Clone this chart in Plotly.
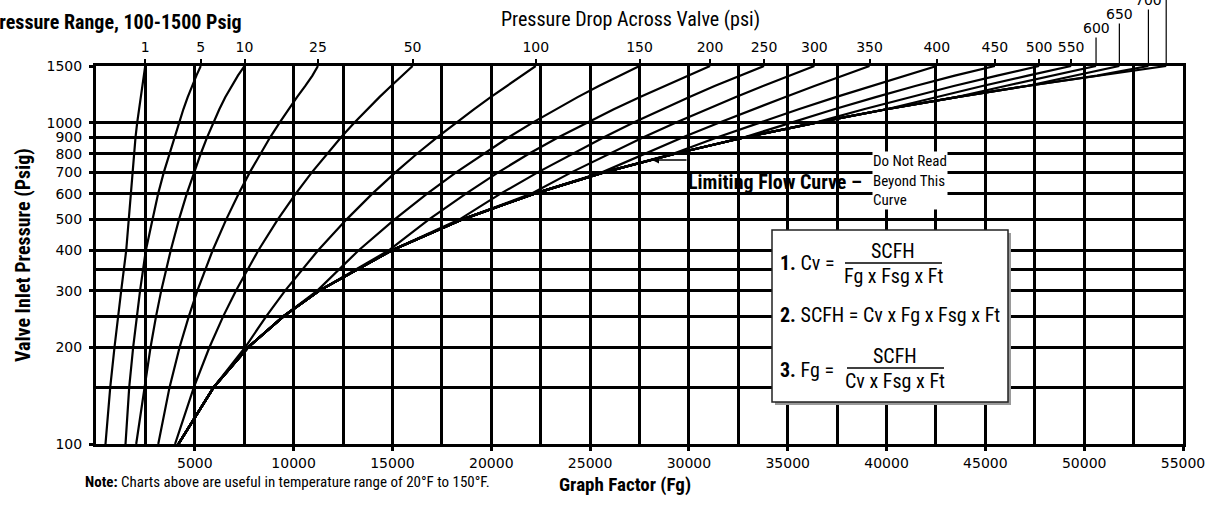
import math

import plotly.graph_objects as go

# Valve inlet pressure (psig) at which every curve is read
INLET_PSIG = [100, 150, 200, 250, 300, 400, 500, 600, 700, 800, 900, 1000, 1100, 1200, 1300, 1400, 1500]

# Limiting (critical) flow curve - Graph Factor values
LIMITING_FG = [4170, 5950, 7700, 9500, 11300, 14950, 18550, 22150, 25700, 29300,
               32850, 36450, 40000, 43550, 47100, 50650, 54150]

# Pressure drop curves (None = curve lies on the limiting flow curve there)
FG_1 = [480, 720, 936, 1110, 1275, 1528, 1660, 1761, 1832, 1913, 1999, 2084, 2180, 2265, 2345, 2420, 2490]
FG_5 = [1493, 1680, 1880, 2060, 2230, 2520, 2850, 3140, 3430, 3720, 3970, 4190, 4420, 4640, 4860, 5080, 5300]
FG_10 = [2034, 2450, 2760, 3040, 3300, 3780, 4200, 4590, 4960, 5300, 5620, 5930, 6240, 6540, 6850, 7180, 7514]
FG_25 = [3150, 3720, 4230, 4700, 5130, 5900, 6590, 7210, 7780, 8310, 8810, 9290, 9740, 10170, 10590, 10950, 11230]
FG_50 = [4000, 4950, 5740, 6440, 7080, 8210, 9200, 10100, 10920, 11690, 12400, 13080, 13730, 14340, 14930, 15490, 16020]
FG_100 = [None, None, 7550, 8620, 9570, 11230, 12680, 13970, 15150, 16240, 17260, 18220, 19120, 19970, 20780, 21540, 22250]
FG_150 = [None, None, None, None, 11200, 13280, 15110, 16740, 18220, 19600, 20880, 22090, 23250, 24370, 25440, 26470, 27500]
FG_200 = [None, None, None, None, None, 14800, 16850, 18700, 20350, 21900, 23400, 24850, 26200, 27500, 28750, 29950, 31070]
FG_250 = [None, None, None, None, None, None, 18400, 20450, 22350, 24100, 25700, 27200, 28650, 30000, 31300, 32550, 33800]
FG_300 = [None, None, None, None, None, None, None, 22000, 24050, 25950, 27700, 29350, 30900, 32350, 33750, 35050, 36350]
FG_350 = [None, None, None, None, None, None, None, None, 25600, 27750, 29700, 31550, 33250, 34850, 36350, 37800, 39140]
FG_400 = [None, None, None, None, None, None, None, None, None, 29200, 31450, 33550, 35550, 37430, 39220, 40920, 42540]
FG_450 = [None, None, None, None, None, None, None, None, None, None, 32800, 35150, 37350, 39450, 41450, 43450, 45480]
FG_500 = [None, None, None, None, None, None, None, None, None, None, None, 36400, 38850, 41150, 43400, 45600, 47720]
FG_550 = [None, None, None, None, None, None, None, None, None, None, None, None, 40000, 42500, 44850, 47150, 49340]
FG_600 = [None, None, None, None, None, None, None, None, None, None, None, None, None, 43550, 46000, 48300, 50600]
FG_650 = [None, None, None, None, None, None, None, None, None, None, None, None, None, None, 47100, 49500, 51780]
FG_700 = [None, None, None, None, None, None, None, None, None, None, None, None, None, None, None, 50650, 53250]

DROP_LABELS = ["1", "5", "10", "25", "50", "100", "150", "200", "250", "300",
               "350", "400", "450", "500", "550", "600", "650", "700"]
DROP_CURVES = [FG_1, FG_5, FG_10, FG_25, FG_50, FG_100, FG_150, FG_200, FG_250, FG_300,
               FG_350, FG_400, FG_450, FG_500, FG_550, FG_600, FG_650, FG_700]
RAISED_LABELS = ["600", "650", "700"]  # labels lifted above the others with leader lines

X_TICKS = [5000, 10000, 15000, 20000, 25000, 30000, 35000, 40000, 45000, 50000, 55000]
Y_TICKS = [100, 200, 300, 400, 500, 600, 700, 800, 900, 1000, 1500]
Y_MINOR = [150, 250, 350]

W, H = 1207, 512
ML, MR, MT, MB = 96, 24, 66, 68
PW, PH = W - ML - MR, H - MT - MB

NARROW = "Liberation Sans Narrow, Arial Narrow, Roboto Condensed, sans-serif"
TICKFONT = dict(family="DejaVu Sans, sans-serif", size=14, color="black")


def fx(px):
    return (px - ML) / PW


def fy(py):
    return (H - MB - py) / PH


def fy_psi(p):
    return (math.log10(p) - 2) / (math.log10(1500) - 2)


fig = go.Figure()

fig.add_trace(go.Scatter(x=LIMITING_FG, y=INLET_PSIG, mode="lines", name="Limiting flow",
                         line=dict(color="black", width=2.2)))
for label, fg in zip(DROP_LABELS, DROP_CURVES):
    xs = [lim if v is None else v for v, lim in zip(fg, LIMITING_FG)]
    fig.add_trace(go.Scatter(x=xs, y=INLET_PSIG, mode="lines", name=label + " psi",
                             line=dict(color="black", width=2.2)))

# invisible carrier for the top (pressure drop) axis
top_idx = [i for i, lb in enumerate(DROP_LABELS) if lb not in RAISED_LABELS]
fig.add_trace(go.Scatter(x=[DROP_CURVES[i][-1] for i in top_idx], y=[1500] * len(top_idx),
                         xaxis="x2", mode="markers", marker=dict(opacity=0), hoverinfo="skip"))

shapes = [
    # white gaps around the limiting-flow call-out
    dict(type="rect", xref="paper", yref="paper", x0=fx(660), x1=fx(868),
         y0=fy_psi(606), y1=fy_psi(792), fillcolor="white", line_width=0, layer="between"),
    dict(type="line", xref="paper", yref="paper", x0=fx(660), x1=fx(868),
         y0=fy_psi(700), y1=fy_psi(700), line=dict(color="black", width=3), layer="between"),
    dict(type="rect", xref="paper", yref="paper", x0=fx(868), x1=fx(953),
         y0=fy(203), y1=fy_psi(792), fillcolor="white", line_width=0, layer="between"),
    # formula box with a soft shadow
    dict(type="rect", xref="paper", yref="paper", x0=fx(775), x1=fx(1011),
         y0=fy(405), y1=fy(233), fillcolor="#9a9a9a", line_width=0, layer="above"),
    dict(type="rect", xref="paper", yref="paper", x0=fx(772), x1=fx(1008),
         y0=fy(402), y1=fy(230), fillcolor="white", line=dict(color="#222", width=1.5),
         layer="above"),
    dict(type="line", xref="paper", yref="paper", x0=fx(845), x1=fx(942),
         y0=fy(263), y1=fy(263), line=dict(color="black", width=1.5), layer="above"),
    dict(type="line", xref="paper", yref="paper", x0=fx(847), x1=fx(944),
         y0=fy(368), y1=fy(368), line=dict(color="black", width=1.5), layer="above"),
    # leader line of the last (cut off) curve label
    dict(type="line", xref="x", yref="paper", x0=LIMITING_FG[-1], x1=LIMITING_FG[-1],
         y0=1, y1=1 + 80 / PH, line=dict(color="black", width=1.2)),
]

ann = []
for lb, dy in zip(RAISED_LABELS, [-38, -52, -68]):
    xv = DROP_CURVES[DROP_LABELS.index(lb)][-1]
    ann.append(dict(x=xv, xref="x", y=1, yref="paper", text=lb, showarrow=True,
                    arrowhead=0, arrowwidth=1.2, arrowcolor="black", ax=0, ay=dy,
                    font=TICKFONT))


def txt(text, x, y, size, xanchor="left", bold=False, angle=0, bg=None):
    if bold:
        text = "<b>" + text + "</b>"
    ann.append(dict(x=x, y=y, xref="paper", yref="paper", text=text, showarrow=False,
                    xanchor=xanchor, yanchor="middle", textangle=angle, align="left",
                    bgcolor=bg, borderpad=0,
                    font=dict(family=NARROW, size=size, color="black")))


txt("Pressure Drop Across Valve (psi)", fx(630), fy(19), 20, "center")
txt("Pressure Range, 100-1500 Psig", fx(243), fy(22), 20, "right", bold=True)
txt("Valve Inlet Pressure (Psig)", fx(23), 0.5, 20, "center", bold=True, angle=-90)
txt("Graph Factor (Fg)", fx(625), fy(484), 19, "center", bold=True)
txt("<b>Note:</b> Charts above are useful in temperature range of 20°F to 150°F.",
    fx(84), fy(482), 15)
txt("Limiting Flow Curve –", fx(687), fy(182), 20, bold=True)
txt("Do Not Read<br>Beyond This<br>Curve", fx(872), fy(180), 15, bg="white")
txt("<b>1.</b> Cv =", fx(779), fy(263), 20)
txt("SCFH", fx(893), fy(251), 20, "center")
txt("Fg x Fsg x Ft", fx(893), fy(276), 20, "center")
txt("<b>2.</b> SCFH = Cv x Fg x Fsg x Ft", fx(779), fy(315), 20)
txt("<b>3.</b> Fg =", fx(779), fy(370), 20)
txt("SCFH", fx(895), fy(356), 20, "center")
txt("Cv x Fsg x Ft", fx(895), fy(381), 20, "center")

ann.append(dict(x=fx(652), y=fy(160), xref="paper", yref="paper", text="", showarrow=True,
                arrowhead=2, arrowsize=1, arrowwidth=1.4, arrowcolor="black", ax=36, ay=0))

fig.update_layout(
    width=W, height=H,
    margin=dict(l=ML, r=MR, t=MT, b=MB, autoexpand=False),
    paper_bgcolor="white", plot_bgcolor="white",
    showlegend=False,
    xaxis=dict(range=[0, 55000], tickvals=X_TICKS, ticktext=[str(v) for v in X_TICKS],
               showgrid=True, gridcolor="black", gridwidth=3, zeroline=False, automargin=False,
               minor=dict(tick0=0, dtick=2500, showgrid=True, gridcolor="black", gridwidth=2.5),
               showline=True, mirror=True, linecolor="black", linewidth=3,
               ticks="outside", ticklen=4, tickwidth=3, tickcolor="black", tickfont=TICKFONT,
               ticklabelstandoff=0),
    xaxis2=dict(range=[0, 55000], overlaying="x", side="top", anchor="y", automargin=False,
                tickvals=[DROP_CURVES[i][-1] for i in top_idx],
                ticktext=[DROP_LABELS[i] for i in top_idx],
                showgrid=False, zeroline=False, showline=False,
                ticks="outside", ticklen=6, tickwidth=2, tickcolor="black", tickfont=TICKFONT,
                ticklabelstandoff=1),
    yaxis=dict(type="log", range=[2, math.log10(1500)], tickvals=Y_TICKS,
               ticktext=[str(v) for v in Y_TICKS], automargin=False,
               showgrid=True, gridcolor="black", gridwidth=3, zeroline=False,
               minor=dict(tickvals=Y_MINOR, showgrid=True, gridcolor="black", gridwidth=3),
               showline=True, mirror=True, linecolor="black", linewidth=3,
               ticks="outside", ticklen=4, tickwidth=3, tickcolor="black", tickfont=TICKFONT,
               ticklabelstandoff=4),
    shapes=shapes,
    annotations=ann,
)

# drop the browser's default 8px body margin so the figure sits at the page corner
fig.write_html("out.html", config={"displayModeBar": False},
               post_script="document.body.style.margin='0';")
